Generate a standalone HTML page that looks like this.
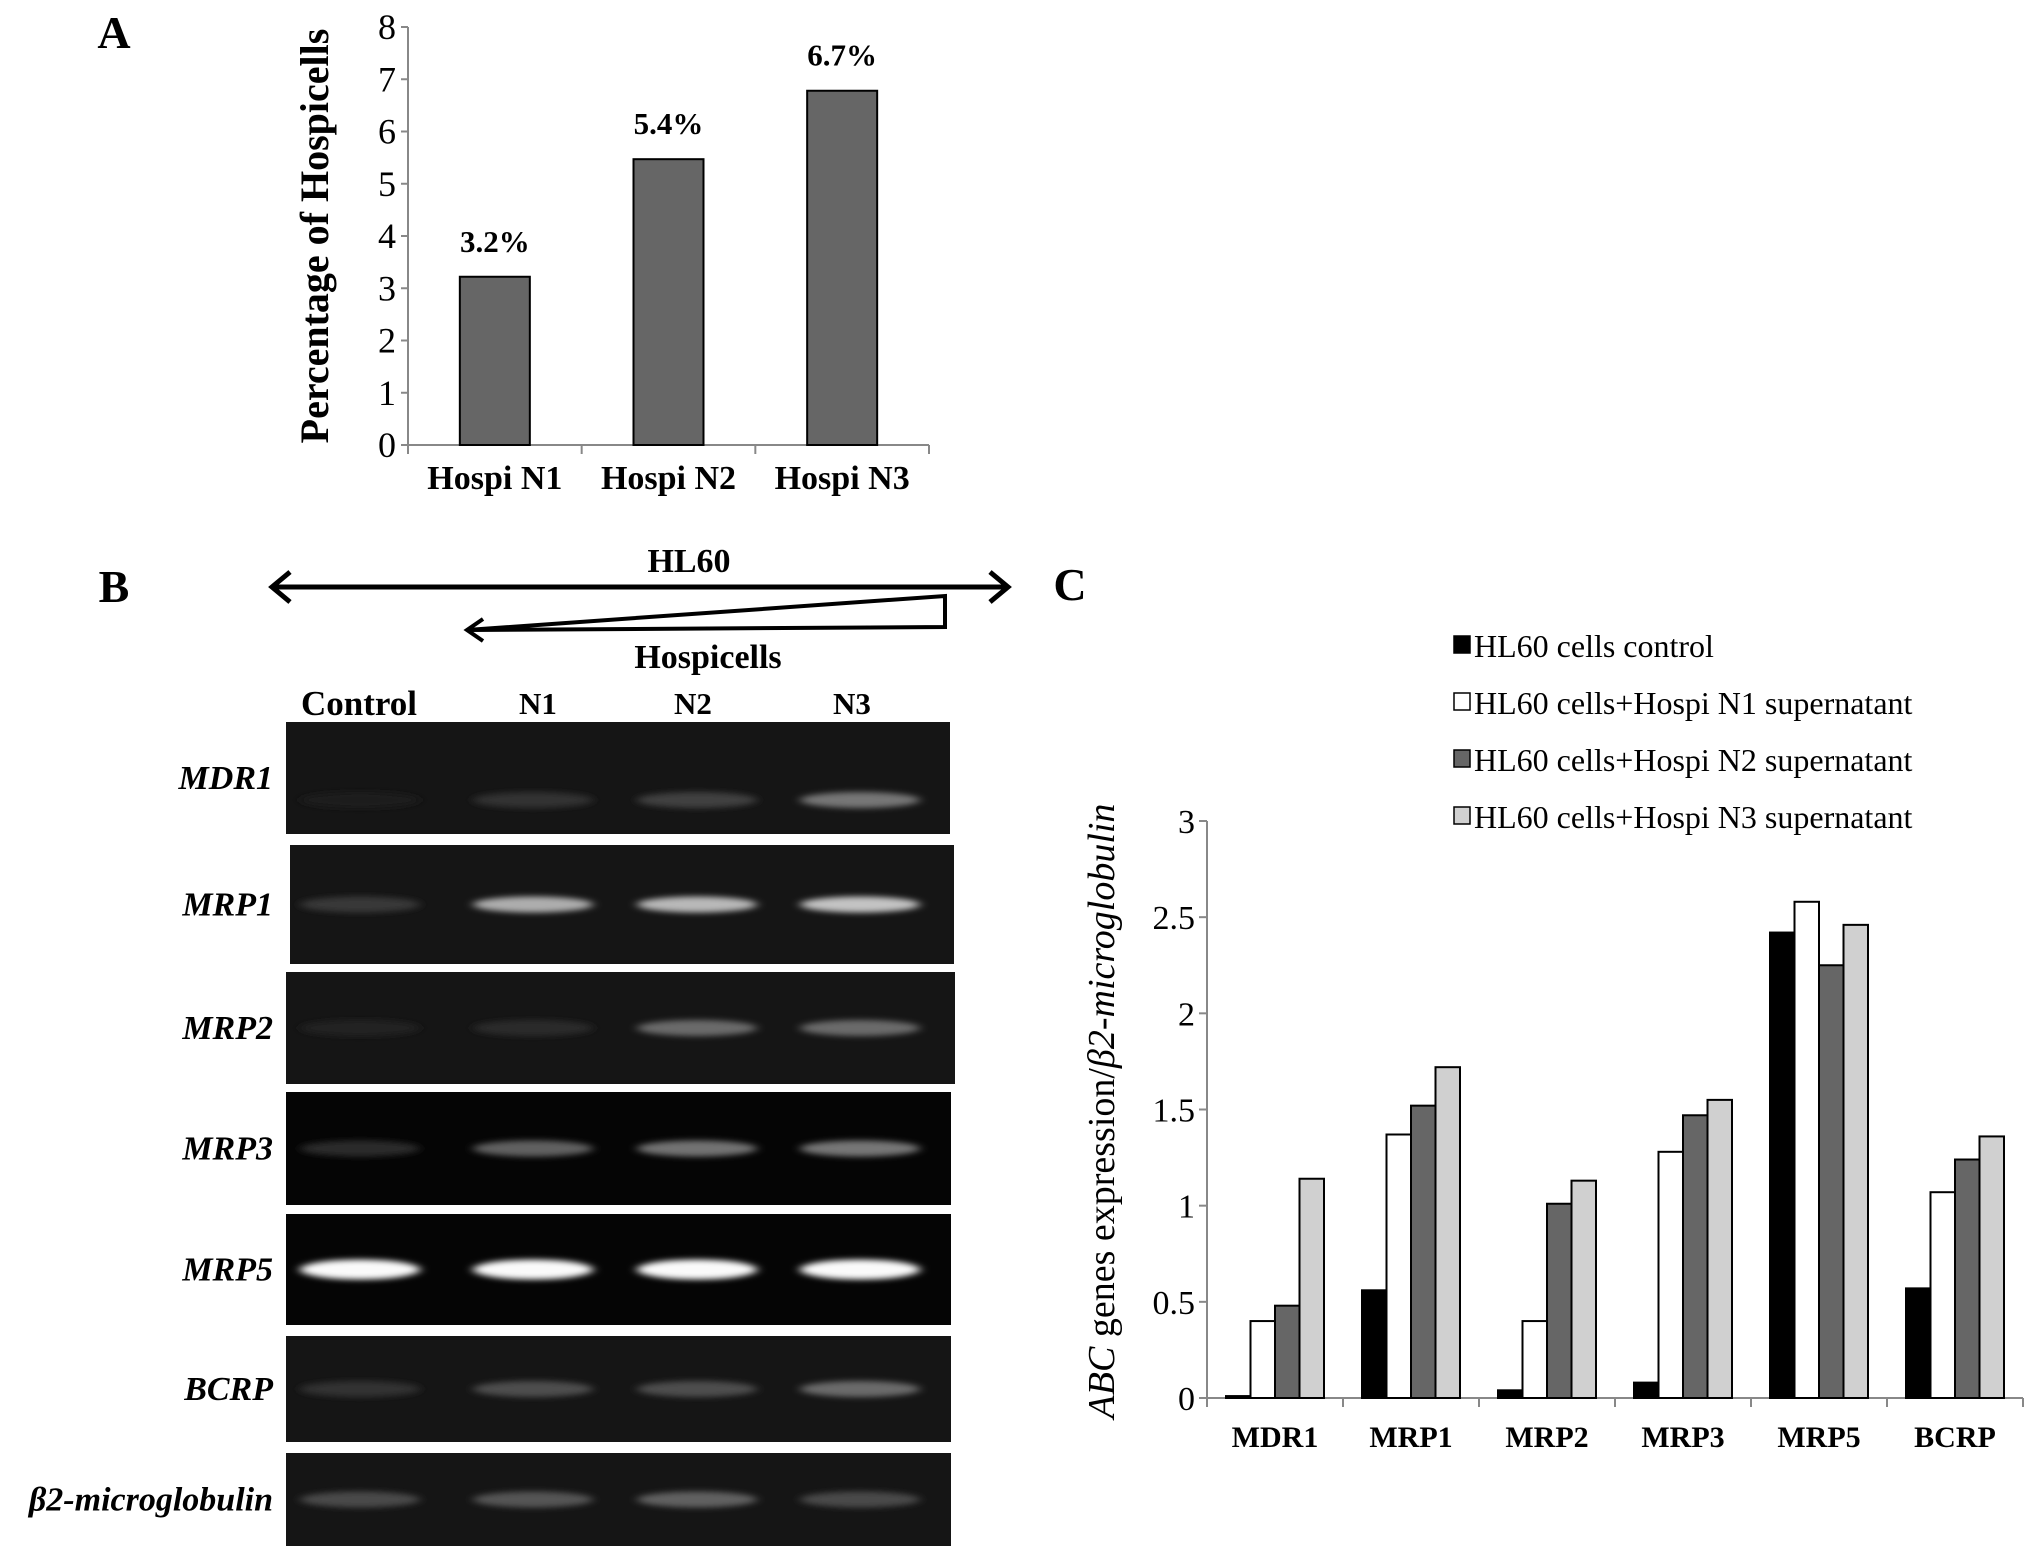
<!DOCTYPE html>
<html><head><meta charset="utf-8">
<style>
html,body{margin:0;padding:0;background:#fff;}
svg{display:block;font-family:"Liberation Serif",serif;}
</style></head>
<body>
<svg id="fig" width="2031" height="1553" viewBox="0 0 2031 1553" xmlns="http://www.w3.org/2000/svg">
<defs>
<filter id="blur" x="-30%" y="-200%" width="160%" height="500%"><feGaussianBlur stdDeviation="5 3"/></filter>
</defs>
<!-- Panel A -->
<text x="114" y="48" font-size="46" font-weight="bold" text-anchor="middle">A</text>
<g id="chartA"></g>
<text transform="translate(328,236) rotate(-90)" font-size="40" font-weight="bold" text-anchor="middle">Percentage of Hospicells</text>

<!-- Panel B -->
<text x="114" y="602" font-size="46" font-weight="bold" text-anchor="middle">B</text>
<g stroke="#000" stroke-width="5" fill="none">
<line x1="272" y1="587" x2="1008" y2="587"/>
<polyline points="290,572 272,587 290,602"/>
<polyline points="990,572 1008,587 990,602"/>
</g>
<text x="689" y="572" font-size="34" font-weight="bold" text-anchor="middle">HL60</text>
<g stroke="#000" stroke-width="4" fill="none">
<polygon points="467,630 945,596 945,627"/>
<polyline points="483,619 467,630 483,641"/>
</g>
<text x="708" y="668" font-size="34" font-weight="bold" text-anchor="middle">Hospicells</text>
<text x="359" y="715" font-size="35" font-weight="bold" text-anchor="middle">Control</text>
<text x="538" y="714" font-size="31" font-weight="bold" text-anchor="middle">N1</text>
<text x="693" y="714" font-size="31" font-weight="bold" text-anchor="middle">N2</text>
<text x="852" y="714" font-size="31" font-weight="bold" text-anchor="middle">N3</text>
<g id="gels"></g>

<!-- Panel C -->
<text x="1070" y="600" font-size="46" font-weight="bold" text-anchor="middle">C</text>
<g id="legendC"></g>
<g id="chartC"></g>
<text transform="translate(1114,1111) rotate(-90)" font-size="38" text-anchor="middle"><tspan font-style="italic">ABC</tspan> genes expression/<tspan font-style="italic">β2-microglobulin</tspan></text>
</svg>
<script>
const NS="http://www.w3.org/2000/svg";
// ---- Panel A data ----
const aCategories=["Hospi N1","Hospi N2","Hospi N3"];
const aValues=[3.22,5.47,6.78];
const aLabels=["3.2%","5.4%","6.7%"];
const aTicks=[0,1,2,3,4,5,6,7,8];
// ---- Panel C data ----
const cCategories=["MDR1","MRP1","MRP2","MRP3","MRP5","BCRP"];
const cControl=[0.01,0.56,0.04,0.08,2.42,0.57];
const cN1=[0.40,1.37,0.40,1.28,2.58,1.07];
const cN2=[0.48,1.52,1.01,1.47,2.25,1.24];
const cN3=[1.14,1.72,1.13,1.55,2.46,1.36];
const cSeriesNames=["HL60 cells control","HL60 cells+Hospi N1 supernatant","HL60 cells+Hospi N2 supernatant","HL60 cells+Hospi N3 supernatant"];
const cTicks=[0,0.5,1,1.5,2,2.5,3];
const cTickLabels=["0","0.5","1","1.5","2","2.5","3"];
// ---- Gel data ----
const genes=["MDR1","MRP1","MRP2","MRP3","MRP5","BCRP","β2-microglobulin"];
const bandIntensity=[[0.0,0.08,0.15,0.4],[0.12,0.65,0.7,0.75],[0.02,0.05,0.35,0.35],[0.05,0.3,0.38,0.4],[1,1,1,1],[0.08,0.22,0.22,0.35],[0.2,0.25,0.3,0.2]];

function el(tag,attrs,parent){const e=document.createElementNS(NS,tag);for(const k in attrs)e.setAttribute(k,attrs[k]);parent.appendChild(e);return e;}

// Panel A
(function(){
  const g=document.getElementById('chartA');
  const x0=408,x1=929,y0=445,yTop=27,max=8;
  const y=v=>y0-(v/max)*(y0-yTop);
  const bw=(x1-x0)/aCategories.length;
  const ax=el('line',{x1:x0,y1:yTop,x2:x0,y2:y0,stroke:'#888','stroke-width':2},g);
  
  
  aTicks.forEach(t=>{
    el('line',{x1:x0-7,y1:y(t),x2:x0,y2:y(t),stroke:'#888','stroke-width':2},g);
    const tx=el('text',{x:x0-12,y:y(t)+12,'font-size':36,'text-anchor':'end'},g);
    tx.textContent=t;
    
    
  });
  const xa=el('line',{x1:x0,y1:y0,x2:x1,y2:y0,stroke:'#888','stroke-width':2},g);
  
  
  for(let i=0;i<=aCategories.length;i++){el('line',{x1:x0+i*bw,y1:y0,x2:x0+i*bw,y2:y0+9,stroke:'#888','stroke-width':2},g);}
  aCategories.forEach((c,i)=>{
    const cx=x0+bw*(i+0.5);
    const r=el('rect',{x:cx-35,y:y(aValues[i]),width:70,height:y0-y(aValues[i]),fill:'#666',stroke:'#000','stroke-width':2},g);
    
    
    const vl=el('text',{x:cx,y:y(aValues[i])-25,'font-size':31,'font-weight':'bold','text-anchor':'middle'},g);
    vl.textContent=aLabels[i];
    
    
    const cl=el('text',{x:cx,y:489,'font-size':34,'font-weight':'bold','text-anchor':'middle'},g);
    cl.textContent=c;
    
    
  });
})();

// Gels
(function(){
  const g=document.getElementById('gels');
  const rows=[[722,834,286,950],[845,964,290,954],[972,1084,286,955],[1092,1205,286,951],[1214,1325,286,951],[1336,1442,286,951],[1453,1546,286,951]];
  const lanes=[360,533,697,860];
  genes.forEach((gn,i)=>{
    const [t,b,l,r]=rows[i];
    const bg=el('rect',{x:l,y:t,width:r-l,height:b-t,fill:i===3||i===4?'#050505':'#151515'},g);
    
    
    const cy=(t+b)/2+(i===0?22:0);
    lanes.forEach((lx,j)=>{
      const v=bandIntensity[i][j];
      const c=Math.round(30+220*v);
      el('ellipse',{cx:lx,cy:cy,rx:60,ry:i===4?10:8,fill:`rgb(${c},${c},${c})`,filter:'url(#blur)'},g);
    });
    const lab=el('text',{x:273,y:(t+b)/2+11,'font-size':34,'font-weight':'bold','font-style':'italic','text-anchor':'end'},g);
    lab.textContent=gn;
    
    
  });
})();

// Panel C
(function(){
  const g=document.getElementById('chartC');
  const lg=document.getElementById('legendC');
  const fills=['#000','#fff','#666','#d0d0d0'];
  const series=[cControl,cN1,cN2,cN3];
  const x0=1207,x1=2023,y0=1398,yTop=821,max=3;
  const y=v=>y0-(v/max)*(y0-yTop);
  const cw=(x1-x0)/cCategories.length, bw=24.5;
  const ya=el('line',{x1:x0,y1:yTop,x2:x0,y2:y0,stroke:'#888','stroke-width':2},g);
  
  
  cTicks.forEach((t,k)=>{
    el('line',{x1:x0-8,y1:y(t),x2:x0,y2:y(t),stroke:'#888','stroke-width':2},g);
    const tx=el('text',{x:x0-12,y:y(t)+12,'font-size':34,'text-anchor':'end'},g);
    tx.textContent=cTickLabels[k];
    
    
  });
  const xa=el('line',{x1:x0,y1:y0,x2:x1,y2:y0,stroke:'#888','stroke-width':2},g);
  
  
  for(let i=0;i<=cCategories.length;i++){el('line',{x1:x0+i*cw,y1:y0,x2:x0+i*cw,y2:y0+9,stroke:'#888','stroke-width':2},g);}
  cCategories.forEach((c,i)=>{
    const gx=x0+cw*i+(cw-4*bw)/2;
    series.forEach((s,j)=>{
      const r=el('rect',{x:gx+j*bw,y:y(s[i]),width:bw,height:Math.max(1,y0-y(s[i])),fill:fills[j],stroke:'#000','stroke-width':2},g);
      
      
    });
    const cl=el('text',{x:x0+cw*(i+0.5),y:1447,'font-size':30,'font-weight':'bold','text-anchor':'middle'},g);
    cl.textContent=c;
    
    
  });
  const ly=[646,703,760,817];
  cSeriesNames.forEach((n,j)=>{
    const sq=el('rect',{x:1454,y:ly[j]-10,width:16,height:17,fill:fills[j],stroke:'#000','stroke-width':1.5},lg);
    
    
    const t=el('text',{x:1474,y:ly[j]+11,'font-size':32},lg);
    t.textContent=n;
    
    
  });
})();
</script>
</body></html>
